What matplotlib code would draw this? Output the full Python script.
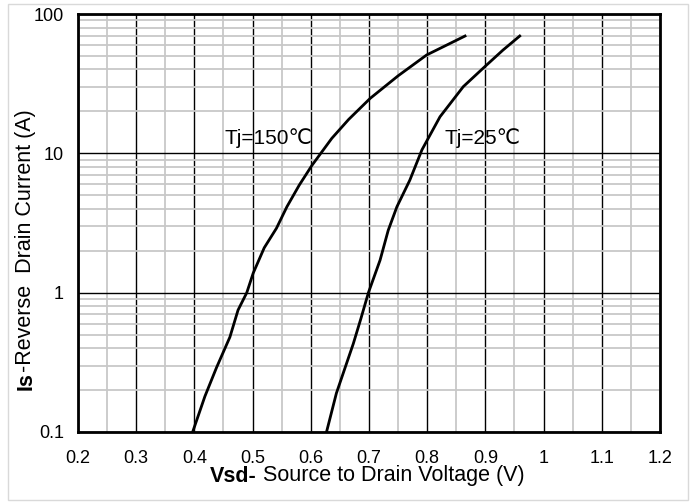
import numpy as np
import matplotlib.pyplot as plt
from matplotlib.patches import Rectangle
from matplotlib.ticker import FixedLocator, NullFormatter

plt.rcParams['font.family'] = ['Liberation Sans Narrow', 'Liberation Sans', 'DejaVu Sans']

# Tj = 150 C
v150 = [0.397, 0.418, 0.438, 0.461, 0.475, 0.490, 0.501, 0.520, 0.541, 0.559,
        0.580, 0.602, 0.636, 0.665, 0.702, 0.750, 0.799, 0.865]
i150 = [0.1, 0.18, 0.29, 0.48, 0.75, 1.0, 1.38, 2.1, 2.9, 4.14,
        5.9, 8.2, 12.8, 17.5, 24.8, 36.0, 50.8, 69.5]

# Tj = 25 C
v25 = [0.627, 0.644, 0.659, 0.673, 0.686, 0.699, 0.719, 0.733, 0.748, 0.770,
       0.791, 0.822, 0.862, 0.899, 0.930, 0.959]
i25 = [0.1, 0.19, 0.29, 0.43, 0.65, 1.0, 1.71, 2.8, 4.14, 6.4,
       10.6, 18.3, 30.1, 41.9, 55.0, 69.5]

xticks = [0.2, 0.3, 0.4, 0.5, 0.6, 0.7, 0.8, 0.9, 1.0, 1.1, 1.2]
xlabels = ['0.2', '0.3', '0.4', '0.5', '0.6', '0.7', '0.8', '0.9', '1', '1.1', '1.2']
yticks = [0.1, 1, 10, 100]
ylabels = ['0.1', '1', '10', '100']

fig = plt.figure(figsize=(6.94, 5.03), dpi=100)
ax = fig.add_axes([78 / 694, 71 / 503, 582 / 694, 418 / 503])

fig.patches.append(Rectangle((8 / 694, 3 / 503), 680 / 694, 496 / 503,
                             transform=fig.transFigure, fill=False,
                             edgecolor='#d9d9d9', linewidth=1))

ax.set_yscale('log')
ax.set_xlim(0.2, 1.2)
ax.set_ylim(0.1, 100)

ax.xaxis.set_major_locator(FixedLocator(xticks))
ax.set_xticklabels(xlabels)
ax.xaxis.set_minor_locator(FixedLocator(np.arange(0.25, 1.2, 0.1)))
ax.yaxis.set_major_locator(FixedLocator(yticks))
ax.set_yticklabels(ylabels)
minor_y = [m * d for d in [0.1, 1, 10] for m in range(2, 10)]
ax.yaxis.set_minor_locator(FixedLocator(minor_y))
ax.yaxis.set_minor_formatter(NullFormatter())

ax.grid(which='minor', color='#c8c8c8', linewidth=1.3)
ax.grid(which='major', color='black', linewidth=1.0)
ax.set_axisbelow(True)
ax.tick_params(which='both', length=0, labelsize=13, colors='black')
ax.tick_params(axis='x', pad=13)
ax.tick_params(axis='y', pad=10)

for s in ax.spines.values():
    s.set_linewidth(2)

ax.plot(v150, i150, color='black', linewidth=2)
ax.plot(v25, i25, color='black', linewidth=2)

ax.text(0.452, 11.6, 'Tj=150\u2103', fontsize=15, ha='left', va='baseline')
ax.text(0.829, 11.6, 'Tj=25\u2103', fontsize=15, ha='left', va='baseline')

# x label: bold prefix followed by normal text
t1 = fig.text(210 / 694, 1 - 476 / 503, 'Vsd-', fontsize=15.5, fontweight='bold',
              ha='left', va='center')
ax.annotate(' Source to Drain Voltage (V)', xy=(1, 0.5), xycoords=t1,
            fontsize=15.5, ha='left', va='center', annotation_clip=False)

# y label: rotated, bold prefix at the bottom
t2 = fig.text(26 / 694, 1 - 390 / 503, 'Is', fontsize=15.5, fontweight='bold',
              rotation=90, ha='center', va='bottom')
ax.annotate('-Reverse  Drain Current (A)', xy=(0.5, 1), xycoords=t2,
            fontsize=15.5, rotation=90, ha='center', va='bottom',
            annotation_clip=False)

fig.savefig('out.png', dpi=100)
